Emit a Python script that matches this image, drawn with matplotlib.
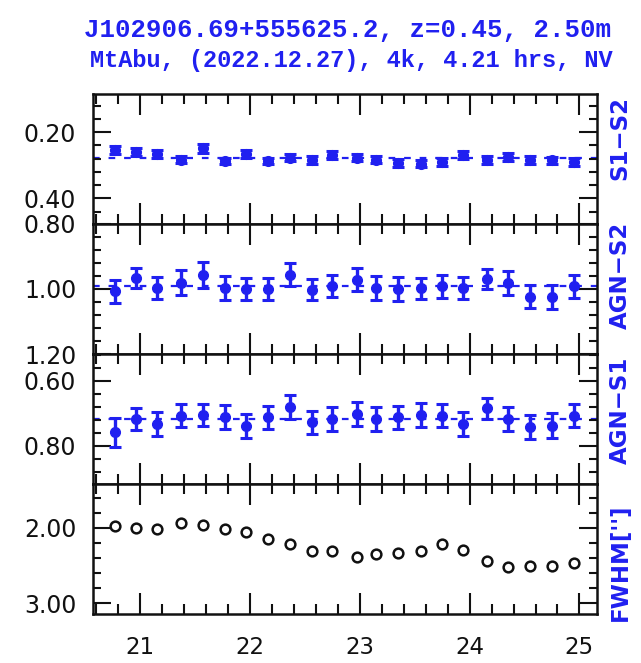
import matplotlib
matplotlib.use("Agg")
import matplotlib.pyplot as plt
from matplotlib.ticker import MultipleLocator, FormatStrFormatter
import numpy as np

# ---- data ----
ut = [20.77, 20.96, 21.15, 21.37, 21.57, 21.77, 21.96, 22.16, 22.36, 22.56, 22.75,
      22.97, 23.15, 23.35, 23.56, 23.75, 23.94, 24.16, 24.35, 24.55, 24.75, 24.95]

s1_s2 = [0.255, 0.260, 0.265, 0.283, 0.249, 0.287, 0.265, 0.287, 0.277, 0.283, 0.270,
         0.277, 0.283, 0.293, 0.295, 0.290, 0.270, 0.283, 0.275, 0.283, 0.285, 0.290]
s1_s2_err = [0.012, 0.013, 0.012, 0.010, 0.014, 0.010, 0.012, 0.010, 0.011, 0.012, 0.012,
             0.011, 0.011, 0.012, 0.011, 0.012, 0.012, 0.012, 0.011, 0.012, 0.011, 0.012]

agn_s2 = [1.008, 0.967, 0.998, 0.981, 0.957, 0.998, 1.001, 1.001, 0.957, 1.003, 0.991,
          0.972, 0.998, 1.001, 0.998, 0.993, 0.998, 0.970, 0.983, 1.024, 1.026, 0.993]
agn_s2_err = [0.036, 0.032, 0.033, 0.037, 0.040, 0.036, 0.033, 0.033, 0.036, 0.033, 0.033,
              0.035, 0.036, 0.036, 0.032, 0.035, 0.034, 0.032, 0.036, 0.034, 0.036, 0.035]

agn_s1 = [0.758, 0.717, 0.732, 0.707, 0.705, 0.712, 0.738, 0.712, 0.681, 0.727, 0.717,
          0.702, 0.717, 0.712, 0.705, 0.707, 0.732, 0.684, 0.717, 0.743, 0.738, 0.707]
agn_s1_err = [0.044, 0.033, 0.036, 0.035, 0.033, 0.037, 0.036, 0.036, 0.037, 0.035, 0.037,
              0.036, 0.037, 0.036, 0.036, 0.036, 0.037, 0.032, 0.036, 0.037, 0.038, 0.036]

fwhm = [1.97, 2.00, 2.02, 1.93, 1.96, 2.02, 2.06, 2.15, 2.21, 2.30, 2.30,
        2.38, 2.34, 2.33, 2.30, 2.22, 2.29, 2.44, 2.52, 2.50, 2.51, 2.47]

title_line1 = "J102906.69+555625.2, z=0.45, 2.50m"
title_line2 = "MtAbu, (2022.12.27), 4k, 4.21 hrs, NV"
right_labels = ["S1\u2212S2", "AGN\u2212S2", "AGN\u2212S1", "FWHM['']"]

x_major = [21, 22, 23, 24, 25]

BLUE = "#2020f0"

fig = plt.figure(figsize=(6.41, 6.63), dpi=100)
fig.patch.set_facecolor("white")

W, H = 641.0, 663.0
left_px, right_px = 93, 597
tops = [94, 223.5, 354, 484]
bots = [223.5, 354, 484, 614]

ylims = [(0.476, 0.085), (1.20, 0.80), (0.917, 0.517), (3.14, 1.42)]
ymaj = [0.2, 0.2, 0.2, 1.0]
ymin = [0.04, 0.04, 0.04, 0.2]
series = [(s1_s2, s1_s2_err), (agn_s2, agn_s2_err), (agn_s1, agn_s1_err), (fwhm, None)]
label_centers = [138, 275, 410, 562]

axes = []
for i in range(4):
    ax = fig.add_axes([left_px / W, 1 - bots[i] / H, (right_px - left_px) / W, (bots[i] - tops[i]) / H])
    vals, errs = series[i]
    if errs is not None:
        ax.axhline(np.mean(vals), color=BLUE, lw=1.6, ls=(0, (3, 4)), zorder=1)
        ax.errorbar(ut, vals, yerr=errs, fmt="o", color=BLUE, ms=7, elinewidth=2.4,
                    capsize=4.2, capthick=2.2, zorder=3)
    else:
        ax.plot(ut, vals, "o", mfc="none", mec="#111111", ms=7, mew=1.8)
    ax.set_xlim(20.57, 25.16)
    ax.set_ylim(*ylims[i])
    ax.xaxis.set_major_locator(plt.FixedLocator(x_major))
    ax.xaxis.set_minor_locator(MultipleLocator(0.2))
    ax.yaxis.set_major_locator(MultipleLocator(ymaj[i]))
    ax.yaxis.set_minor_locator(MultipleLocator(ymin[i]))
    ax.yaxis.set_major_formatter(FormatStrFormatter("%.2f"))
    ax.tick_params(axis="both", which="both", direction="in", top=True, right=True,
                   color="#111111", width=1.5)
    ax.tick_params(axis="x", which="major", length=15)
    ax.tick_params(axis="x", which="minor", length=7)
    ax.tick_params(axis="y", which="major", length=13, pad=12, labelsize=17)
    ax.tick_params(axis="y", which="minor", length=6)
    ax.tick_params(axis="x", labelsize=16.5, pad=16)
    if i < 3:
        ax.tick_params(axis="x", labelbottom=False)
    for sp in ax.spines.values():
        sp.set_linewidth(1.8)
        sp.set_color("#111111")
    for lab in ax.get_yticklabels() + ax.get_xticklabels():
        lab.set_color("#111111")
    fig.text(620 / W, 1 - label_centers[i] / H, right_labels[i], rotation=90,
             ha="center", va="center", color=BLUE, fontsize=16.5, fontweight="bold")
    axes.append(ax)

fig.text(347 / W, 1 - 30 / H, title_line1, ha="center", va="center",
         family="Liberation Mono", fontsize=18.5, fontweight="bold", color=BLUE)
fig.text(351 / W, 1 - 61 / H, title_line2, ha="center", va="center",
         family="Liberation Mono", fontsize=17, fontweight="bold", color=BLUE)

fig.savefig("out.png", dpi=100, facecolor="white")
